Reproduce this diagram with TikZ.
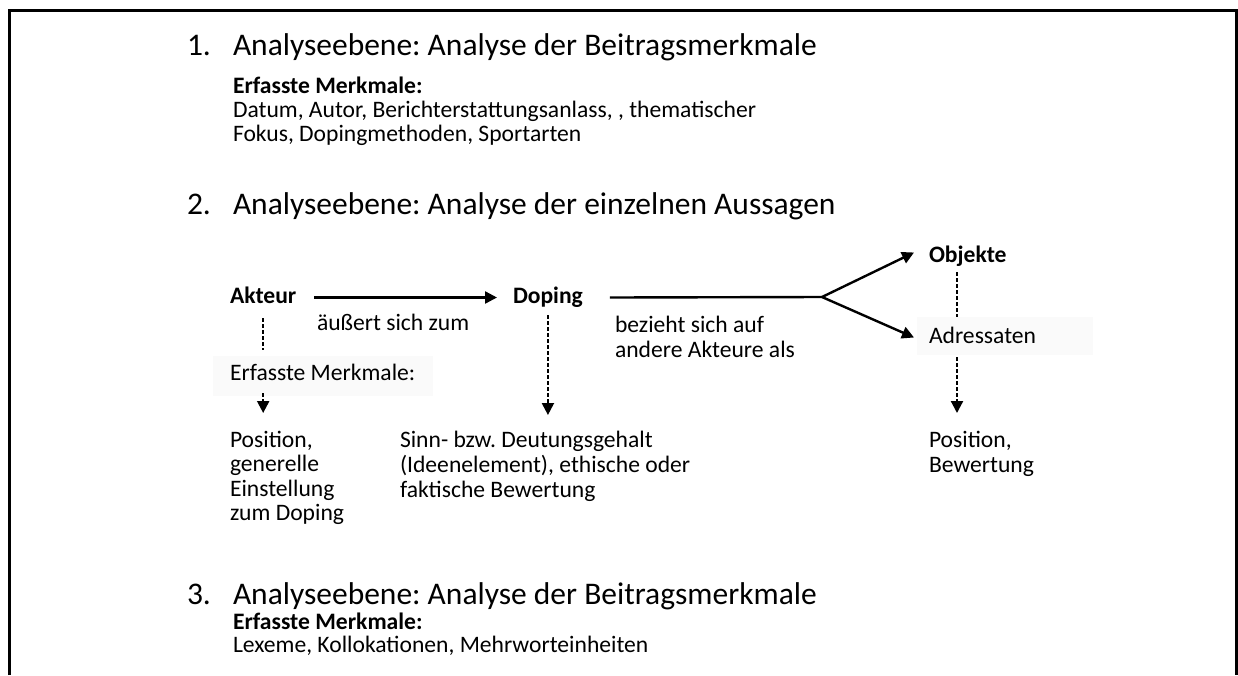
\documentclass[tikz,border=0pt]{standalone}
\usepackage{fontspec}
\setmainfont{Carlito}
\usetikzlibrary{arrows.meta,calc}
\frenchspacing
\begin{document}
\begin{tikzpicture}[x=1pt,y=-1pt,
  every node/.style={inner sep=0pt, outer sep=0pt, anchor=base west, font=\frenchspacing},
  title/.style={font=\fontsize{31.5}{35}\selectfont\frenchspacing},
  body/.style={font=\fontsize{23.6}{25}\selectfont\frenchspacing},
  bodyb/.style={font=\fontsize{23.6}{25}\selectfont\bfseries\frenchspacing},
  lbl/.style={text height=16pt, text depth=5pt},
  solidline/.style={line width=2.4pt},
  arr/.style={line width=2.4pt, -{Triangle[length=12pt,width=12pt]}},
  dsh/.style={line width=2.2pt, dash pattern=on 4pt off 2pt},
  darr/.style={dsh, -{Triangle[length=12pt,width=12pt]}},
  faint/.style={fill=black!2}
]
\useasboundingbox (0,0) rectangle (1238,675);
\draw[line width=2.2pt] (9.5,675) -- (9.5,10.5) -- (1236.5,10.5) -- (1236.5,675);

% faint backgrounds
\fill[faint] (213,356) rectangle (433,396);
\fill[faint] (917,317) rectangle (1093,355);

% Level 1
\node[title] (n1) at (187,55) {1.};
\node[title] (t1) at (233,55) {Analyseebene: Analyse der Beitragsmerkmale};
\node[bodyb] (e1) at (233,93) {Erfasste Merkmale:};
\node[body] (d1a) at (233,117) {Datum, Autor, Berichterstattungsanlass, , thematischer};
\node[body] (d1b) at (233,141) {Fokus, Dopingmethoden, Sportarten};

% Level 2
\node[title] (n2) at (187,214) {2.};
\node[title] (t2) at (233,214) {Analyseebene: Analyse der einzelnen Aussagen};

\node[bodyb,lbl] (akteur) at (230,303) {Akteur};
\node[bodyb,lbl] (doping) at (513,303) {Doping};
\node[bodyb,lbl] (objekte) at (929,262) {Objekte};
\node[body,lbl] (adressaten) at (929,343) {Adressaten};
\node[body] (aeussert) at (317,330) {äußert sich zum};
\node[body] (bez1) at (615,332) {bezieht sich auf};
\node[body] (bez2) at (615,357) {andere Akteure als};
\node[body,lbl] (merk) at (230,380) {Erfasste Merkmale:};

\node[body,lbl] (pos1) at (230,447) {Position,};
\node[body] (pos2) at (230,471) {generelle};
\node[body] (pos3) at (230,496) {Einstellung};
\node[body] (pos4) at (230,520) {zum Doping};

\node[body,lbl] (sinn1) at (400,447) {Sinn- bzw. Deutungsgehalt};
\node[body] (sinn2) at (400,472) {(Ideenelement), ethische oder};
\node[body] (sinn3) at (400,497) {faktische Bewertung};

\node[body,lbl] (bw1) at (929,447) {Position,};
\node[body] (bw2) at (929,472) {Bewertung};

% Level 3
\node[title] (n3) at (187,604) {3.};
\node[title] (t3) at (233,604) {Analyseebene: Analyse der Beitragsmerkmale};
\node[bodyb] (e3) at (233,629) {Erfasste Merkmale:};
\node[body] (l3) at (233,652) {Lexeme, Kollokationen, Mehrworteinheiten};

% connectors
\draw[arr] ([xshift=18pt]akteur.east) -- ([xshift=-16pt]doping.west);
\coordinate (fork) at (822,297);
\draw[solidline] ([xshift=27pt]doping.east) -- (fork);
\draw[arr] (fork) -- ([xshift=-15pt,yshift=4pt]objekte.west);
\draw[arr] (fork) -- ([xshift=-15pt]adressaten.west);

\draw[dsh] ($(akteur.south)+(0,10)$) -- ($(akteur.south |- merk.north)+(0,-14)$);
\draw[darr] ($(akteur.south |- merk.south)+(0,8)$) -- ($(akteur.south |- pos1.north)+(0,-18)$);
\draw[darr] ($(doping.south)+(0,7)$) -- ($(doping.south |- sinn1.north)+(0,-16)$);
\draw[dsh] ($(objekte.south west)+(28,5)$) -- ($(objekte.south west |- adressaten.north)+(28,-10)$);
\draw[darr] ($(adressaten.south west)+(28,9)$) -- ($(adressaten.south west |- bw1.north)+(28,-18)$);
\end{tikzpicture}
\end{document}
